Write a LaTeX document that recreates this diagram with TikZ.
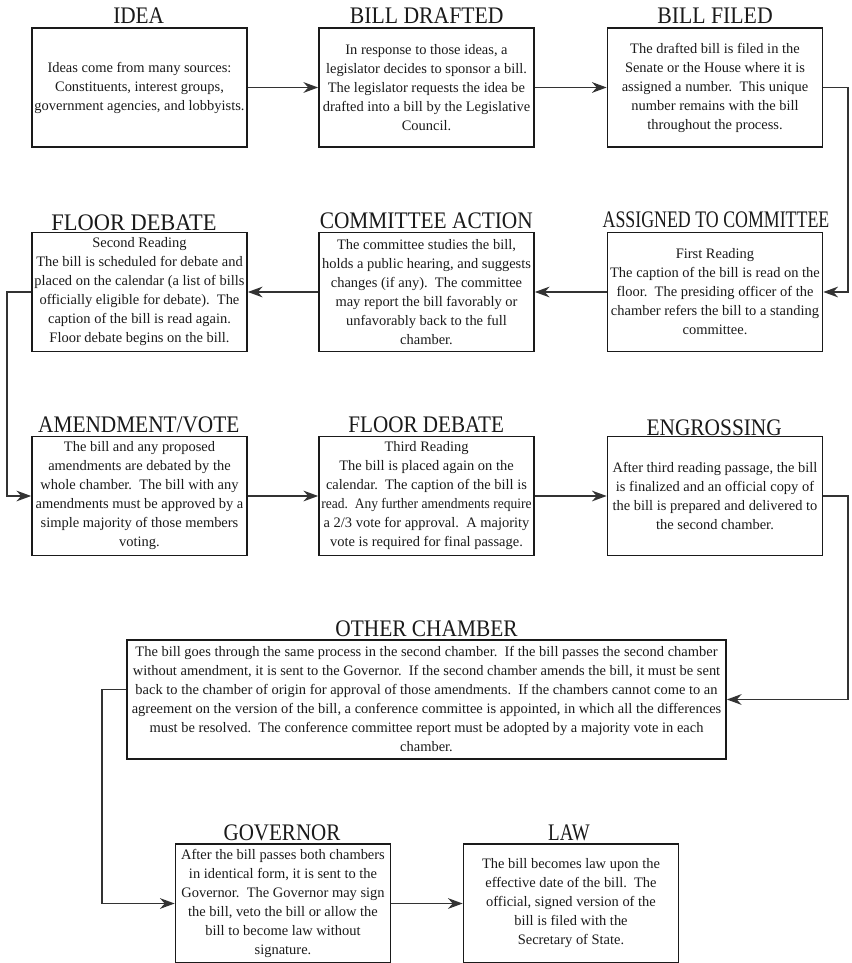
\documentclass[tikz,border=0pt]{standalone}
\usepackage{fontspec}
\setmainfont{Liberation Serif}
\usepackage{graphicx}
\usetikzlibrary{arrows.meta,calc}
\newcommand{\twosp}{\ \ }
\definecolor{ink}{HTML}{1A1A1A}
\definecolor{wire}{HTML}{333333}
\tikzset{
  box/.style={draw=ink, line width=1.25pt, minimum width=161.25pt, minimum height=89.25pt,
    inner sep=0pt, align=center, text=ink, font=\frenchspacing\fontsize{10.85}{14.25}\selectfont},
  widebox/.style={box, minimum width=449.25pt},
  ttl/.style={anchor=base, inner sep=0pt, text=ink, font=\fontsize{17.8}{20}\selectfont},
  arr/.style={draw=wire, line width=1.25pt, -{Stealth[length=11pt,width=8pt,inset=3.5pt]}},
}
\begin{document}
\begin{tikzpicture}[x=0.75pt,y=-0.75pt]
\useasboundingbox (0,0) rectangle (851,963);

% row 1
\node[box] (idea) at (139.5,87.5) {Ideas come from many sources:\\ Constituents, interest groups,\\ government agencies, and lobbyists.};
\node[box] (drafted) at (426.5,87.5) {In response to those ideas, a\\ legislator decides to sponsor a bill.\\ The legislator requests the idea be\\ drafted into a bill by the Legislative\\ Council.};
\node[box] (filed) at (715,87.5) {The drafted bill is filed in the\\ Senate or the House where it is\\ assigned a number.\twosp This unique\\ number remains with the bill\\ throughout the process.};

% row 2
\node[box] (floor2) at (139.5,292) {Second Reading\\ The bill is scheduled for debate and\\ placed on the calendar (a list of bills\\ officially eligible for debate).\twosp The\\ caption of the bill is read again.\\ Floor debate begins on the bill.};
\node[box] (committee) at (426.5,292) {The committee studies the bill,\\ holds a public hearing, and suggests\\ changes (if any).\twosp The committee\\ may report the bill favorably or\\ unfavorably back to the full\\ chamber.};
\node[box] (assigned) at (715,292) {First Reading\\ The caption of the bill is read on the\\ floor.\twosp The presiding officer of the\\ chamber refers the bill to a standing\\ committee.};

% row 3
\node[box] (amend) at (139.5,496) {The bill and any proposed\\ amendments are debated by the\\ whole chamber.\twosp The bill with any\\ amendments must be approved by a\\ simple majority of those members\\ voting.};
\node[box] (floor3) at (426.5,496) {Third Reading\\ The bill is placed again on the\\ calendar.\twosp The caption of the bill is\\ \scalebox{0.935}[1]{read.\twosp Any further amendments require}\\ a 2/3 vote for approval.\twosp A majority\\ vote is required for final passage.};
\node[box] (engross) at (715,496) {After third reading passage, the bill\\ is finalized and an official copy of\\ the bill is prepared and delivered to\\ the second chamber.};

% row 4
\node[widebox] (other) at (426.5,699.5) {The bill goes through the same process in the second chamber.\twosp If the bill passes the second chamber\\ without amendment, it is sent to the Governor.\twosp If the second chamber amends the bill, it must be sent\\ back to the chamber of origin for approval of those amendments.\twosp If the chambers cannot come to an\\ agreement on the version of the bill, a conference committee is appointed, in which all the differences\\ must be resolved.\twosp The conference committee report must be adopted by a majority vote in each\\ chamber.};

% row 5
\node[box] (gov) at (283,903.5) {After the bill passes both chambers\\ in identical form, it is sent to the\\ Governor.\twosp The Governor may sign\\ the bill, veto the bill or allow the\\ bill to become law without\\ signature.};
\node[box] (law) at (571,903.5) {The bill becomes law upon the\\ effective date of the bill.\twosp The\\ official, signed version of the\\ bill is filed with the\\ Secretary of State.};

% titles
\node[ttl] (t-idea) at (138.7,24) {\scalebox{0.896}[1]{IDEA}};
\node[ttl] (t-drafted) at (426.7,24) {\scalebox{0.913}[1]{BILL DRAFTED}};
\node[ttl] (t-filed) at (715,24) {\scalebox{0.917}[1]{BILL FILED}};
\node[ttl] (t-floor2) at (134,230) {\scalebox{0.945}[1]{FLOOR DEBATE}};
\node[ttl] (t-committee) at (426.3,228.3) {\scalebox{0.90}[1]{COMMITTEE ACTION}};
\node[ttl] (t-assigned) at (716,227.3) {\scalebox{0.752}[1]{ASSIGNED TO COMMITTEE}};
\node[ttl] (t-amend) at (138.8,432.3) {\scalebox{0.898}[1]{AMENDMENT/VOTE}};
\node[ttl] (t-floor3) at (426.2,432.3) {\scalebox{0.89}[1]{FLOOR DEBATE}};
\node[ttl] (t-engross) at (714.2,435) {\scalebox{0.90}[1]{ENGROSSING}};
\node[ttl] (t-other) at (426.5,636) {\scalebox{0.90}[1]{OTHER CHAMBER}};
\node[ttl] (t-gov) at (282,840.7) {\scalebox{0.886}[1]{GOVERNOR}};
\node[ttl] (t-law) at (569,840.7) {\scalebox{0.80}[1]{LAW}};

% connectors
\coordinate (oout) at ($(other.west)+(0,-10)$);
\draw[arr] (idea) -- (drafted);
\draw[arr] (drafted) -- (filed);
\draw[arr] (filed.east) -- ++(24.5,0) |- (assigned.east);
\draw[arr] (assigned) -- (committee);
\draw[arr] (committee) -- (floor2);
\draw[arr] (floor2.west) -- ++(-24.5,0) |- (amend.west);
\draw[arr] (amend) -- (floor3);
\draw[arr] (floor3) -- (engross);
\draw[arr] (engross.east) -- ++(24.5,0) |- (other.east);
\draw[arr] (oout) -- ++(-24,0) |- (gov.west);
\draw[arr] (gov) -- (law);
\end{tikzpicture}
\end{document}
